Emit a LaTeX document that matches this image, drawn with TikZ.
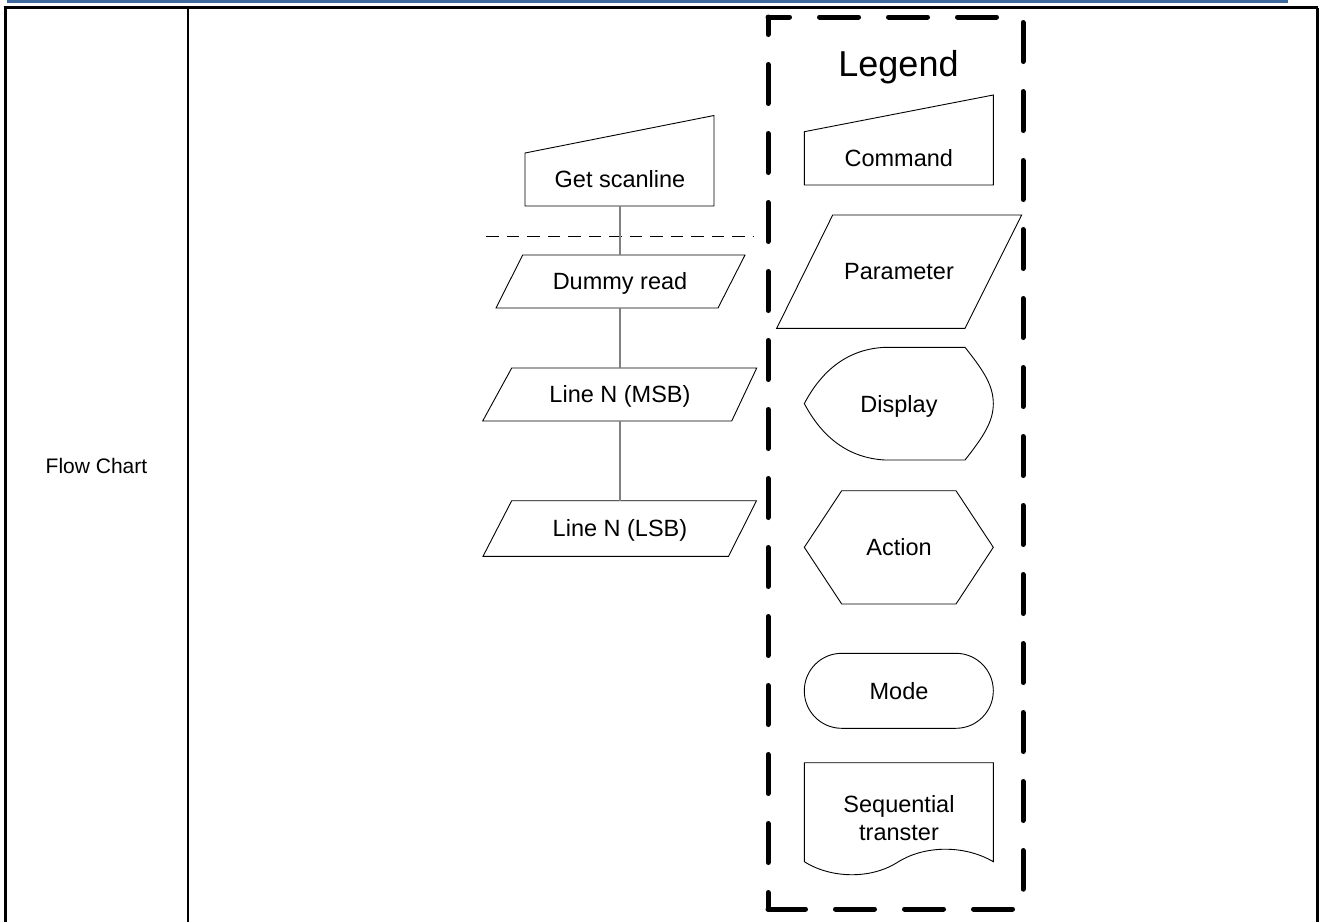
\documentclass[tikz,border=0pt]{standalone}
\usepackage{fontspec}
\setmainfont{Liberation Sans}
\definecolor{topblue}{RGB}{62,106,160}
\definecolor{conngray}{RGB}{128,128,128}
\begin{document}
\begin{tikzpicture}[x=1pt,y=-1pt,
  shp/.style={draw=black,line width=0.9pt},
  lbl/.style={font=\fontsize{23.5}{28}\selectfont,inner sep=0pt,align=center,text height=16.8pt,text depth=0pt},
  conn/.style={draw=conngray,line width=1.3pt},
  tbl/.style={draw=black,line width=2.6pt},
  legendbox/.style={draw=black,line width=5pt,line cap=round,line join=round,dash pattern=on 39pt off 30pt},
  sepline/.style={draw=black,line width=1.3pt,dash pattern=on 12.5pt off 8pt}]
\useasboundingbox (0,0) rectangle (1322,922);
% top bar
\fill[topblue] (7,0) rectangle (1288,3.3);
% table
\draw[tbl] (3.7,7.6) -- (1318.3,7.6);
\draw[tbl,line width=3pt] (5,7.6) -- (5,922);
\draw[tbl,line width=3pt] (1317,7.6) -- (1317,922);
\draw[tbl] (188,7.6) -- (188,922);
\node[font=\fontsize{21}{25}\selectfont,inner sep=0pt,text height=15pt,text depth=0pt] (fc) at (96.5,466) {Flow Chart};

% separator dashed line
\coordinate (sepL) at (486,236.5);
\coordinate (sepR) at (753,236.5);
\draw[sepline] (sepL) -- (sepR);

% Get scanline (command)
\draw[shp] (525,206) -- (525,153) -- (714,115.5) -- (714,206) -- cycle;
\node[lbl] (gs) at (620,179) {Get scanline};
\coordinate (gsB) at (620,206);
% Dummy read (parameter)
\draw[shp] (522.7,255) -- (745,255) -- (718,308) -- (496,308) -- cycle;
\node[lbl] (dr) at (620,281) {Dummy read};
\coordinate (drT) at (620,255);
\coordinate (drB) at (620,308);
% Line N (MSB)
\draw[shp] (511.7,368) -- (756.7,368) -- (731.7,421) -- (482.7,421) -- cycle;
\node[lbl] (msb) at (620,394.5) {Line N (MSB)};
\coordinate (msbT) at (620,368);
\coordinate (msbB) at (620,421);
% Line N (LSB)
\draw[shp] (511.7,500.7) -- (756.5,500.7) -- (728.5,556.3) -- (483,556.3) -- cycle;
\node[lbl] (lsb) at (620,528.5) {Line N (LSB)};
\coordinate (lsbT) at (620,500.7);

% connectors
\draw[conn] (gsB) -- (drT);
\draw[conn] (drB) -- (msbT);
\draw[conn] (msbB) -- (lsbT);

% legend box (dashed frame)
\coordinate (lbTL) at (768,17);
\coordinate (lbBL) at (768,909);
\draw[legendbox,dash phase=17.5pt] (lbTL) -- (1020,17);
\draw[legendbox,dash phase=21.5pt] (lbTL) -- (lbBL);
\draw[legendbox,dash phase=1.5pt] (lbBL) -- (1012.5,909);
\draw[legendbox] (1023,22.5) -- (1023,889.2);
\node[font=\fontsize{36}{40}\selectfont,inner sep=0pt,text height=25.8pt,text depth=0pt] (lg) at (898.5,64) {Legend};

% Command
\draw[shp] (804.3,185) -- (804.3,131.7) -- (993.3,95) -- (993.3,185) -- cycle;
\node[lbl] (cmd) at (898.8,158) {Command};
% Parameter
\draw[shp] (832.7,215) -- (1021.7,215) -- (965,328.3) -- (776.7,328.3) -- cycle;
\node[lbl] (par) at (899,271.5) {Parameter};
% Display
\draw[shp] (885,347.3) -- (965,347.3)
  .. controls (983,370) and (993.3,385) .. (993.3,403.6)
  .. controls (993.3,422) and (983,437) .. (965,460)
  -- (885,460)
  .. controls (848,458) and (822,437) .. (804.3,403.6)
  .. controls (822,370) and (848,349) .. (885,347.3) -- cycle;
\node[lbl] (dsp) at (899,403.6) {Display};
% Action
\draw[shp] (841.7,490.7) -- (956,490.7) -- (993.3,547.3) -- (956,604) -- (841.7,604) -- (804.3,547.3) -- cycle;
\node[lbl] (act) at (899,547.3) {Action};
% Mode
\draw[shp,rounded corners=37.4pt] (804.3,653.3) rectangle (993.3,728.3);
\node[lbl] (mode) at (899,690.8) {Mode};
% Sequential transter
\draw[shp] (804.3,861.7) -- (804.3,762.7) -- (993.3,762.7) -- (993.3,861.7)
  .. controls (965,845) and (925,845) .. (898,862)
  .. controls (870,880) and (830,878) .. (804.3,861.7) -- cycle;
\node[lbl] (seq) at (899,832) {Sequential\\transter};
\end{tikzpicture}
\end{document}
